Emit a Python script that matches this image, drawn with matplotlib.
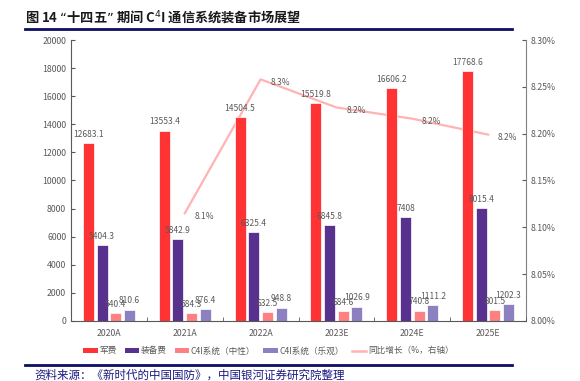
import matplotlib
matplotlib.use("Agg")
import matplotlib.pyplot as plt
import numpy as np
from matplotlib.patches import Patch
from matplotlib.lines import Line2D

plt.rcParams['font.family'] = ['Noto Sans CJK SC', 'DejaVu Sans']

categories = ["2020A", "2021A", "2022A", "2023E", "2024E", "2025E"]
military = [12683.1, 13553.4, 14504.5, 15519.8, 16606.2, 17768.6]
equipment = [5404.3, 5842.9, 6325.4, 6845.8, 7408, 8015.4]
c4i_neutral = [540.4, 584.3, 632.5, 684.6, 740.8, 801.5]
c4i_optimistic = [810.6, 876.4, 948.8, 1026.9, 1111.2, 1202.3]
growth_cats = ["2021A", "2022A", "2023E", "2024E", "2025E"]
growth = [8.115, 8.258, 8.228, 8.216, 8.199]
growth_labels = ["8.1%", "8.3%", "8.2%", "8.2%", "8.2%"]

series_names = ["军费", "装备费", "C4I系统（中性）", "C4I系统（乐观）"]
colors = ["#FF3333", "#58318F", "#FF8080", "#8C80C0"]
line_color = "#FFB3B3"
label_color = "#595959"

fig = plt.figure(figsize=(5.8, 3.81), dpi=100)
ax = fig.add_axes([0.1224, 0.1575, 0.7846, 0.7375])
ax2 = ax.twinx()
ax.set_zorder(ax2.get_zorder() + 1)
ax.patch.set_visible(False)

x = np.arange(len(categories))
w = 0.145
offsets = [-0.27, -0.09, 0.09, 0.27]
data = [military, equipment, c4i_neutral, c4i_optimistic]
for vals, off, c in zip(data, offsets, colors):
    bars = ax.bar(x + off, vals, width=w, color=c, edgecolor='white', linewidth=0.5, zorder=2)
    for b, v in zip(bars, vals):
        s = f"{v:g}" if v != int(v) else f"{int(v)}"
        ax.annotate(s, (b.get_x() + b.get_width() / 2, v), xytext=(0, 3),
                    textcoords='offset points', ha='center', va='bottom',
                    fontsize=6.1, color=label_color, zorder=5)

gx = [categories.index(c) for c in growth_cats]
ax2.plot(gx, growth, color=line_color, linewidth=1.6, zorder=1)
for xi, yi, lab in zip(gx, growth, growth_labels):
    ax2.annotate(lab, (xi, yi), xytext=(7, -2), textcoords='offset points',
                 ha='left', va='center', fontsize=6.1, color=label_color)

ax.set_xlim(-0.5, len(categories) - 0.5)
ax.set_ylim(0, 20000)
ax.set_yticks(np.arange(0, 20001, 2000))
ax2.set_ylim(8.0, 8.3)
ax2.set_yticks([8.00, 8.05, 8.10, 8.15, 8.20, 8.25, 8.30])
ax2.set_yticklabels([f"{v:.2f}%" for v in [8.00, 8.05, 8.10, 8.15, 8.20, 8.25, 8.30]])

ax.set_xticks(x)
ax.set_xticklabels(categories)
ax.set_xticks(np.arange(-0.5, len(categories)), minor=True)
ax.tick_params(axis='x', which='major', length=0, labelsize=6.3, labelcolor=label_color, pad=6)
ax.tick_params(axis='x', which='minor', length=3, direction='in', color='#595959')
ax.tick_params(axis='y', labelsize=6.3, labelcolor=label_color, length=3, direction='in', color='#595959')
ax2.tick_params(axis='y', labelsize=6.3, labelcolor=label_color, length=3, direction='in', color='#595959')

for a in (ax, ax2):
    a.spines['top'].set_visible(False)
ax.spines['right'].set_visible(False)
ax2.spines['left'].set_visible(False)
ax2.spines['bottom'].set_visible(False)
ax.spines['left'].set_color('#595959')
ax.spines['bottom'].set_color('#595959')
ax2.spines['right'].set_color('#808080')

handles = [Patch(facecolor=c, edgecolor='none') for c in colors]
handles.append(Line2D([0], [0], color=line_color, linewidth=1.8))
names = series_names + ["同比增长（%，右轴）"]
fig.legend(handles, names, loc='center', bbox_to_anchor=(0.463, 0.079), ncol=5,
           frameon=False, fontsize=6.2, handlelength=1.7, handleheight=0.6,
           columnspacing=0.9, handletextpad=0.2, labelcolor=label_color)

fig.text(0.043, 0.957, "图 14 “十四五” 期间 C$^4$I 通信系统装备市场展望",
         fontsize=9.5, fontweight='bold', color='#1a1a1a', ha='left', va='center')
fig.add_artist(Line2D([0.043, 0.883], [0.924, 0.924], color='#0d0d66', linewidth=2))
fig.add_artist(Line2D([0.043, 0.883], [0.042, 0.042], color='#0d0d66', linewidth=2))
fig.text(0.06, 0.016, "资料来源：《新时代的中国国防》，中国银河证券研究院整理",
         fontsize=8.3, style='italic', color='#1a1a80', ha='left', va='center')

fig.savefig("out.png", dpi=100)
